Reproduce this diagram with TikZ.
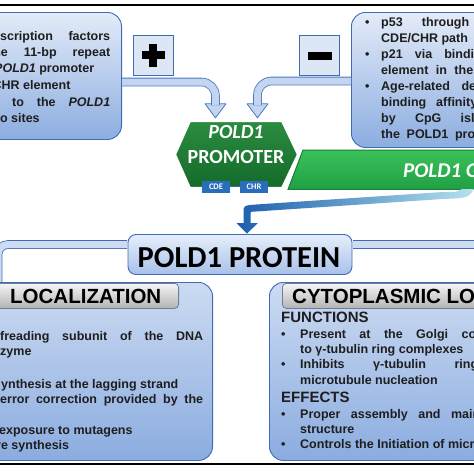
\documentclass[tikz,border=0pt]{standalone}
\usepackage{fontspec}
\setmainfont{Liberation Sans}
\newfontfamily\calfont{Carlito}
\usetikzlibrary{calc}
\definecolor{boxtop}{HTML}{E3EBF8}
\definecolor{boxbot}{HTML}{8CADE0}
\definecolor{loctop}{HTML}{CCDBF2}
\definecolor{locbot}{HTML}{8BACE0}
\definecolor{boxedge}{HTML}{3F6CB4}
\definecolor{signfill}{HTML}{DCE6F4}
\definecolor{arrowfill}{HTML}{C3D5F0}
\definecolor{arrowedge}{HTML}{4A78C0}
\definecolor{hextop}{HTML}{2B8C40}
\definecolor{hexbot}{HTML}{146A2A}
\definecolor{genetop}{HTML}{3CC05A}
\definecolor{genebot}{HTML}{1FA044}
\definecolor{genedge}{HTML}{17803A}
\definecolor{sitefill}{HTML}{2A6EBB}
\definecolor{linkdark}{HTML}{1B5FAD}
\definecolor{linklight}{HTML}{B5E2EE}
\definecolor{tabtop}{HTML}{F5F5F5}
\definecolor{tabbot}{HTML}{B3B3B3}
\definecolor{tabedge}{HTML}{6E7F99}
\definecolor{txtcol}{HTML}{1E1E1E}
\definecolor{protop}{HTML}{E6EEFA}
\definecolor{probot}{HTML}{A8C1EA}
\definecolor{bandfill}{HTML}{CDDCF3}
\begin{document}
\begin{tikzpicture}[x=1pt, y=-1pt,
        infobox/.style={draw=boxedge, line width=0.9pt, rounded corners=14pt, top color=boxtop, bottom color=boxbot, inner sep=0pt},
        locbox/.style={draw=boxedge, line width=0.9pt, rounded corners=14pt, top color=loctop, bottom color=locbot, inner sep=0pt},
        tabbox/.style={draw=tabedge, line width=0.8pt, rounded corners=4pt, top color=tabtop, bottom color=tabbot, inner sep=0pt},
        signbox/.style={draw=boxedge, line width=0.9pt, fill=signfill, minimum size=40pt, inner sep=0pt},
        shaft/.style={draw=arrowedge, line width=0.8pt, double=arrowfill, double distance=7pt, rounded corners=14pt},
        head/.style={draw=arrowedge, line width=0.8pt, fill=arrowfill, line join=round},
        band/.style={draw=boxedge, line width=0.8pt, double=bandfill, double distance=7pt, rounded corners=10pt},
        txt/.style={anchor=base west, inner sep=0pt, text=txtcol, font=\bfseries\fontsize{12.5}{15}\selectfont},
        title/.style={anchor=base west, inner sep=0pt, text=black, font=\bfseries\fontsize{20.5}{24}\selectfont},
        sub/.style={anchor=base west, inner sep=0pt, text=txtcol, font=\bfseries\fontsize{15}{18}\selectfont},
        site/.style={fill=sitefill, text=white, inner sep=0pt, minimum width=28pt, minimum height=12pt, font=\calfont\bfseries\fontsize{8.5}{9}\selectfont},
        white text/.style={inner sep=0pt, text=white, font=\calfont\bfseries\fontsize{20}{24}\selectfont},
    ]
    \useasboundingbox (0,0) rectangle (474,474);
    \clip (0,0) rectangle (474,474);

    \draw[line width=2pt] (0,5) -- (474,5);
    \draw[line width=2pt] (0,464) -- (474,464);

    \node[infobox, anchor=north east, minimum width=142pt, minimum height=127pt] (reg) at (122,12) {};
    \node[infobox, anchor=north west, minimum width=140pt, minimum height=135pt] (rep) at (351,12) {};

    \node[txt] (reg1) at (0,40) {\makebox[110pt][s]{scription factors}};
    \node[txt] (reg2) at (-11,56) {\makebox[121pt][s]{the 11-bp repeat}};
    \node[txt] (reg3) at (-6,72) {\textit{POLD1} promoter};
    \node[txt] (reg4) at (-7.5,89) {CHR element};
    \node[txt] (reg5) at (12,106) {\makebox[98pt][s]{to the \textit{POLD1}}};
    \node[txt] (reg6) at (-14,122) {two sites};

    \node[txt] (rep1b) at (365,26) {\textbullet};
    \node[txt] (rep1) at (381,26) {\makebox[88pt][s]{p53 through}};
    \node[txt] (rep2) at (381,42) {CDE/CHR path};
    \node[txt] (rep3b) at (365,58) {\textbullet};
    \node[txt] (rep3) at (381,58) {\makebox[93pt][s]{p21 via bindi}};
    \node[txt] (rep4) at (381,74) {\makebox[92pt][s]{element in the}};
    \node[txt] (rep5b) at (365,90) {\textbullet};
    \node[txt] (rep5) at (381,90) {\makebox[95pt][s]{Age-related de}};
    \node[txt] (rep6) at (381,106) {\makebox[96pt][s]{binding affinity}};
    \node[txt] (rep7) at (381,122) {\makebox[108pt][s]{by CpG islan}};
    \node[txt] (rep8) at (381,138) {\makebox[94pt][s]{the POLD1 pro}};

    \node[signbox] (plus) at (153,55) {};
    \fill ($(plus)+(-11.5,-4)$) rectangle ($(plus)+(11.5,4)$);
    \fill ($(plus)+(-4,-11.5)$) rectangle ($(plus)+(4,11.5)$);
    \node[signbox] (minus) at (319,55) {};
    \fill ($(minus)+(-11,-3)$) rectangle ($(minus)+(13,5)$);

    \node[minimum width=123pt, minimum height=67pt, inner sep=0pt] (hex) at (236.5,154.5) {};
    \node[minimum width=192pt, minimum height=39pt, inner sep=0pt, anchor=north west] (gene) at (288,150) {};
    \coordinate (inL) at ([xshift=-21pt,yshift=17pt]hex.north);
    \coordinate (inR) at ([xshift=21pt,yshift=17pt]hex.north);

    \draw[head] ([xshift=-10.5pt]inL) -- ([xshift=10.5pt]inL) -- ([yshift=-14pt]inL) -- cycle;
    \draw[head] ([xshift=-10.5pt]inR) -- ([xshift=10.5pt]inR) -- ([yshift=-14pt]inR) -- cycle;
    \draw[shaft] (reg.east |- 0,82) -| ([yshift=-1.5pt]inL);
    \draw[shaft] (rep.west |- 0,81) -| ([yshift=-1.5pt]inR);

    \path[draw=genedge, line width=1pt, top color=genetop, bottom color=genebot]
        ([xshift=15pt]gene.north west) -- (gene.north east) -- (gene.south east) -- (gene.south west) -- cycle;
    \path[draw=white, line width=2.5pt, top color=hextop, bottom color=hexbot]
        (hex.west) -- ([xshift=15pt]hex.north west) -- ([xshift=-16pt]hex.north east) -- (hex.east)
        -- ([xshift=-16pt]hex.south east) -- ([xshift=15pt]hex.south west) -- cycle;
    \node[white text, anchor=base, font=\calfont\bfseries\itshape\fontsize{20}{24}\selectfont] (hexname) at (236,138.5) {POLD1};
    \node[white text, anchor=base] (hexlbl) at (236,163.5) {PROMOTER};
    \node[site] (cde) at (216,186.5) {CDE};
    \node[site] (chr) at (254,186.5) {CHR};
    \draw[sitefill, line width=1.5pt] (cde) -- (chr);
    \node[white text, anchor=base west, font=\calfont\bfseries\itshape\fontsize{21}{24}\selectfont] (genelbl) at (403,177) {POLD1 G};

    \node[draw=boxedge, line width=0.9pt, rounded corners=8pt, top color=protop, bottom color=probot,
        minimum width=224pt, minimum height=40pt, inner sep=0pt] (prot) at (240,254.5) {};
    \node[anchor=base, inner sep=0pt, font=\calfont\bfseries\fontsize{30.5}{34}\selectfont] (protlbl) at (239,267) {POLD1 PROTEIN};

    \shade[left color=linkdark, right color=linklight]
        (462,189) .. controls (458,192) .. (443,192) -- (256,204.5) .. controls (243.5,205.5) .. (243.5,213)
        -- (243.5,223) -- (236.5,223) -- (247,233.5) -- (258,223) -- (250.5,223) -- (250.5,215)
        .. controls (250.5,211.5) .. (256,211.5) -- (443,199) .. controls (468,198) .. (474,189) -- cycle;

    \draw[band] ([xshift=-0.5pt]prot.west |- 0,244.5) -| (-2,300);
    \draw[band] ([xshift=0.5pt]prot.east |- 0,244.5) -- (480,244.5);

    \node[locbox, anchor=north east, minimum width=233pt, minimum height=178pt] (loc) at (213,282) {};
    \node[tabbox, anchor=north east, minimum width=190pt, minimum height=25pt] (loctab) at (179,283) {};
    \node[title] (loclbl) at (10,303) {LOCALIZATION};
    \node[txt] (loc1) at (0,340) {\makebox[203pt][s]{freading subunit of the DNA}};
    \node[txt] (loc2) at (0,355) {zyme};
    \node[txt] (loc3) at (1,388) {ynthesis at the lagging strand};
    \node[txt] (loc4) at (0,403) {\makebox[203pt][s]{error correction provided by the}};
    \node[txt] (loc5) at (-1,434) {exposure to mutagens};
    \node[txt] (loc6) at (-4,449) {re synthesis};

    \node[locbox, anchor=north west, minimum width=230pt, minimum height=178pt] (cyto) at (269,282) {};
    \node[tabbox, anchor=north west, minimum width=210pt, minimum height=25pt] (cytotab) at (282,283) {};
    \node[title] (cytolbl) at (292,303) {CYTOPLASMIC LO};
    \node[sub] (fun) at (281,322.5) {FUNCTIONS};
    \node[txt] (fun1b) at (281,338) {\textbullet};
    \node[txt] (fun1) at (300,338) {\makebox[176pt][s]{Present at the Golgi co}};
    \node[txt] (fun2) at (300,353) {to γ-tubulin ring complexes};
    \node[txt] (fun3b) at (281,368) {\textbullet};
    \node[txt] (fun3) at (300,368) {\makebox[178pt][s]{Inhibits γ-tubulin ring}};
    \node[txt] (fun4) at (300,384) {microtubule nucleation};
    \node[sub] (eff) at (281,402) {EFFECTS};
    \node[txt] (eff1b) at (281,418) {\textbullet};
    \node[txt] (eff1) at (300,418) {\makebox[180pt][s]{Proper assembly and main}};
    \node[txt] (eff2) at (300,433) {structure};
    \node[txt] (eff3b) at (281,448) {\textbullet};
    \node[txt] (eff3) at (300,448) {Controls the Initiation of micr};
\end{tikzpicture}
\end{document}
